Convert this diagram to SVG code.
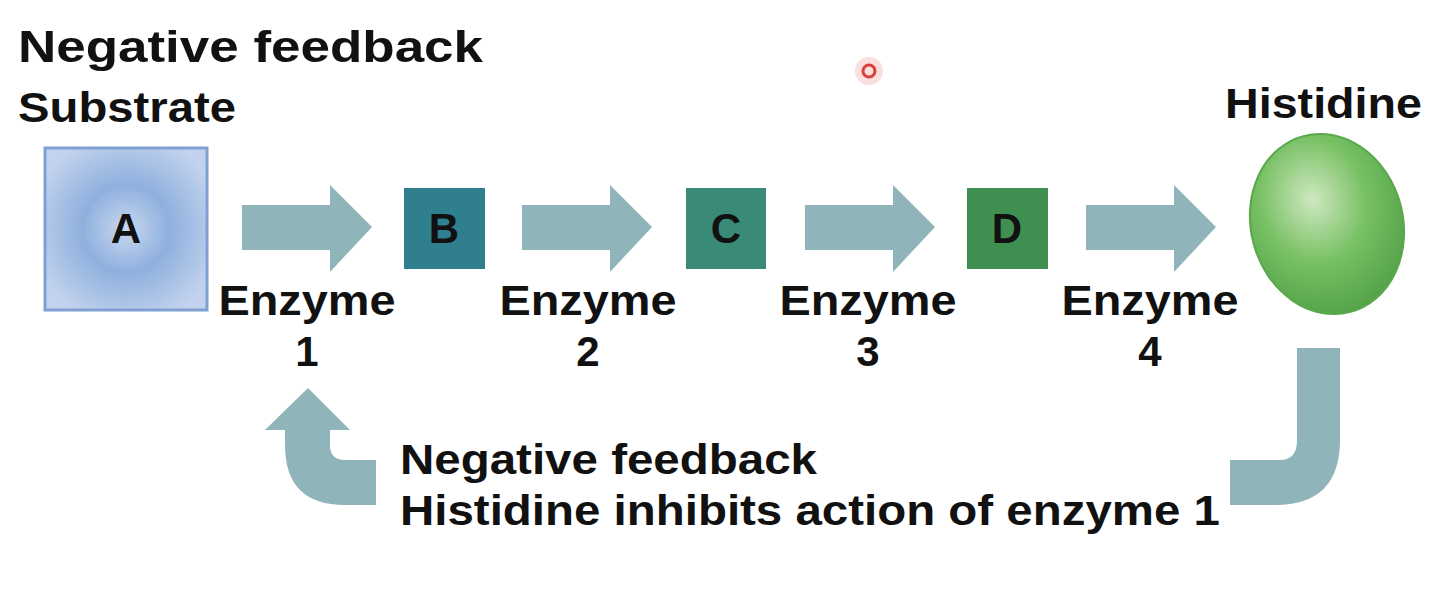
<svg xmlns="http://www.w3.org/2000/svg" width="1440" height="599" viewBox="0 0 1440 599">
<style>
text{font-family:"Liberation Sans",Arial,sans-serif;font-weight:bold;fill:#111}
.t{font-size:45px}.l{font-size:42px}
.arr{fill:#8fb5bb}
</style>
<defs>
<radialGradient id="ga" cx="0.5" cy="0.5" r="0.6"><stop offset="0" stop-color="#c9d8f0"/><stop offset="0.45" stop-color="#8fb0dd"/><stop offset="1" stop-color="#c3d3ee"/></radialGradient>
<radialGradient id="gh" cx="0.45" cy="0.35" r="0.7"><stop offset="0" stop-color="#cfe8c0"/><stop offset="0.5" stop-color="#78c064"/><stop offset="1" stop-color="#4f9e45"/></radialGradient>
<path id="ar" d="M0,205 H88 V185 L130,227 L88,272 V250 H0 Z"/>
</defs>
<text class="t" x="18" y="62" textLength="465" lengthAdjust="spacingAndGlyphs">Negative feedback</text>
<circle cx="869" cy="71" r="14" fill="#f6c9c6" opacity="0.6"/>
<circle cx="869" cy="71" r="6" fill="none" stroke="#d9403a" stroke-width="3"/>
<g id="nodeA"><rect x="45" y="148" width="162" height="162" fill="url(#ga)" stroke="#7fa0d0" stroke-width="3"/><text class="l" x="126" y="243" text-anchor="middle">A</text><text class="l" x="18" y="122" textLength="218" lengthAdjust="spacingAndGlyphs">Substrate</text></g>
<g id="nodeB"><rect x="404" y="188" width="81" height="81" fill="#2f7f8f"/><text class="l" x="444" y="243" text-anchor="middle">B</text></g>
<g id="nodeC"><rect x="686" y="188" width="80" height="81" fill="#3a8a78"/><text class="l" x="726" y="243" text-anchor="middle">C</text></g>
<g id="nodeD"><rect x="967" y="188" width="81" height="81" fill="#3f8f50"/><text class="l" x="1007" y="243" text-anchor="middle">D</text></g>
<g id="histidine"><ellipse cx="1327" cy="224" rx="76" ry="91" transform="rotate(-15 1327 224)" fill="url(#gh)" stroke="#5aa84c" stroke-width="2"/><text class="l" x="1225" y="118" textLength="197" lengthAdjust="spacingAndGlyphs">Histidine</text></g>
<g id="connectors">
<use href="#ar" class="arr" x="242"/><use href="#ar" class="arr" x="522"/><use href="#ar" class="arr" x="805"/><use href="#ar" class="arr" x="1086"/>
<path class="arr" d="M1340,348 L1340,440 Q1340,505 1275,505 L1230,505 L1230,460 L1280,460 Q1297,460 1297,440 L1297,348 Z"/>
<path class="arr" d="M376,505 L345,505 Q285,505 285,445 L285,430 L265,430 L308,388 L350,430 L330,430 L330,445 Q330,460 345,460 L376,460 Z"/>
</g>
<g id="labels" text-anchor="middle">
<text class="l" x="307" y="315" textLength="177" lengthAdjust="spacingAndGlyphs">Enzyme</text><text class="l" x="307" y="366">1</text>
<text class="l" x="588" y="315" textLength="177" lengthAdjust="spacingAndGlyphs">Enzyme</text><text class="l" x="588" y="366">2</text>
<text class="l" x="868" y="315" textLength="177" lengthAdjust="spacingAndGlyphs">Enzyme</text><text class="l" x="868" y="366">3</text>
<text class="l" x="1150" y="315" textLength="177" lengthAdjust="spacingAndGlyphs">Enzyme</text><text class="l" x="1150" y="366">4</text>
</g>
<text class="l" x="400" y="474" textLength="417" lengthAdjust="spacingAndGlyphs">Negative feedback</text>
<text class="l" x="400" y="525" textLength="820" lengthAdjust="spacingAndGlyphs">Histidine inhibits action of enzyme 1</text>
</svg>
